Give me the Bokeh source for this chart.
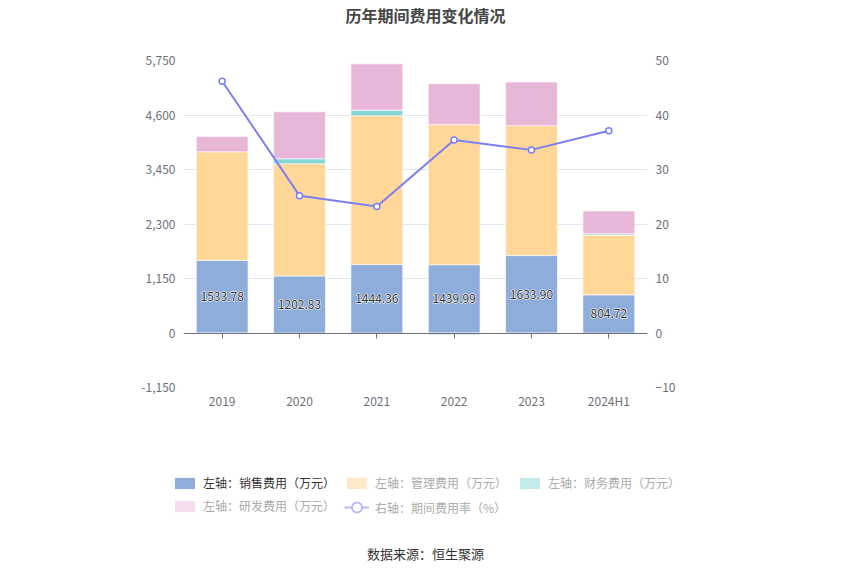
from bokeh.plotting import figure
from bokeh.models import (ColumnDataSource, Range1d, LinearAxis, CategoricalAxis, FixedTicker,
                          NumeralTickFormatter, Label, Legend, LegendItem)
from bokeh.core.properties import value
from bokeh.embed import file_html
from bokeh.resources import INLINE

categories = ["2019", "2020", "2021", "2022", "2023", "2024H1"]
sales = [1533.78, 1202.83, 1444.36, 1439.99, 1633.90, 804.72]
mgmt = [2290, 2370, 3140, 2956, 2741, 1261]
finance = [-8, 104, 118, -35, -20, 28]
rnd = [320, 991, 977, 865, 921, 482]
rate = [46.2, 25.2, 23.2, 35.4, 33.6, 37.1]
sales_labels = ["1533.78", "1202.83", "1444.36", "1439.99", "1633.90", "804.72"]
left_ticks = [-1150, 0, 1150, 2300, 3450, 4600, 5750]
right_ticks = [-10, 0, 10, 20, 30, 40, 50]

FONT = "Noto Sans CJK SC"
C_SALES = "#8eaddb"
C_MGMT = "#ffd899"
C_FIN = "#86d5d7"
C_RND = "#e8b7d8"
C_LINE = "#7b7ff2"
W = 842

# ---------- header (title) ----------
HH = 45
head = figure(width=W, height=HH, x_range=Range1d(0, W), y_range=Range1d(0, HH),
              x_axis_type=None, y_axis_type=None, min_border=0, output_backend="svg",
              toolbar_location=None, outline_line_color=None)
head.grid.visible = False
head.add_layout(Label(x=425, y=HH - 14, text="历年期间费用变化情况", text_align="center",
                      text_baseline="middle", text_font=FONT, text_font_size="16px",
                      text_font_style="bold", text_color="#464646"))

# ---------- main chart ----------
p = figure(x_range=categories, y_range=Range1d(-1150, 5750),
           frame_width=464, frame_height=327,
           min_border_left=183, min_border_right=195, min_border_top=15, min_border_bottom=33,
           output_backend="svg", toolbar_location=None, outline_line_color=None)
p.extra_y_ranges = {"rate": Range1d(-10, 50)}

series = [sales, mgmt, finance, rnd]
colors = [C_SALES, C_MGMT, C_FIN, C_RND]
pos_base = [0.0] * len(categories)
neg_base = [0.0] * len(categories)
stacks = []
for vals in series:
    bottoms, tops = [], []
    for i, v in enumerate(vals):
        if v >= 0:
            bottoms.append(pos_base[i]); tops.append(pos_base[i] + v); pos_base[i] += v
        else:
            bottoms.append(neg_base[i] + v); tops.append(neg_base[i]); neg_base[i] += v
    stacks.append((bottoms, tops))

p.xgrid.grid_line_color = None
p.ygrid.ticker = FixedTicker(ticks=left_ticks)
p.ygrid.grid_line_color = "#e0e6f1"

for (b, t), c in zip(stacks, colors):
    src = ColumnDataSource(dict(x=categories, bottom=b, top=t))
    p.vbar(x="x", bottom="bottom", top="top", width=0.67, source=src,
           fill_color=c, line_color="white", line_alpha=0.6, line_width=1)

lab_src = ColumnDataSource(dict(x=categories, y=[s / 2 for s in sales], t=sales_labels))
p.text(x="x", y="y", text="t", source=lab_src, text_align="center", text_baseline="middle",
       text_font=value(FONT), text_font_size="12px", text_color="white",
       text_outline_color="white")
p.text(x="x", y="y", text="t", source=lab_src, text_align="center", text_baseline="middle",
       text_font=value(FONT), text_font_size="12px", text_color="#333333")

rsrc = ColumnDataSource(dict(x=categories, y=rate))
p.line(x="x", y="y", source=rsrc, y_range_name="rate", line_color=C_LINE, line_width=2)
p.scatter(x="x", y="y", source=rsrc, y_range_name="rate", size=6, marker="circle",
          fill_color="white", line_color=C_LINE, line_width=1.5)

p.yaxis.ticker = FixedTicker(ticks=left_ticks)
p.yaxis.formatter = NumeralTickFormatter(format="0,0")
p.yaxis.axis_line_color = None
p.yaxis.major_tick_line_color = None
p.yaxis.minor_tick_line_color = None
p.yaxis.major_tick_out = 0
p.yaxis.minor_tick_out = 0
p.yaxis.major_label_text_color = "#6e7079"
p.yaxis.major_label_text_font_size = "12px"
p.yaxis.major_label_text_font = FONT
p.yaxis.major_label_standoff = 8

ra = LinearAxis(y_range_name="rate", ticker=FixedTicker(ticks=right_ticks),
                axis_line_color=None, major_tick_line_color=None, minor_tick_line_color=None,
                major_tick_out=0, minor_tick_out=0,
                major_label_text_color="#6e7079", major_label_text_font_size="12px",
                major_label_text_font=FONT, major_label_standoff=8)
p.add_layout(ra, "right")

p.xaxis.axis_line_color = None
p.xaxis.major_tick_line_color = None
p.xaxis.major_tick_out = 0
p.xaxis.major_label_text_color = "#6e7079"
p.xaxis.major_label_text_font_size = "12px"
p.xaxis.major_label_text_font = FONT
p.xaxis.major_label_standoff = 4

zero_axis = CategoricalAxis(fixed_location=0, axis_line_color="#6e7079", axis_line_width=1,
                            major_tick_line_color="#6e7079", major_tick_in=0, major_tick_out=5,
                            major_label_text_font_size="0px", major_label_text_alpha=0)
p.add_layout(zero_axis, "below")

# ---------- footer (legend + source) ----------
FH = 150
foot = figure(width=W, height=FH, x_range=Range1d(0, W), y_range=Range1d(0, FH),
              x_axis_type=None, y_axis_type=None, min_border=0, output_backend="svg",
              toolbar_location=None, outline_line_color=None)
foot.grid.visible = False

off = ColumnDataSource(dict(x=[-1000], top=[-1000]))
d_sales = foot.vbar(x="x", top="top", width=1, source=off, fill_color=C_SALES, line_color=None)
d_mgmt = foot.vbar(x="x", top="top", width=1, source=off, fill_color="#fde9c8", line_color=None)
d_fin = foot.vbar(x="x", top="top", width=1, source=off, fill_color="#c3ebec", line_color=None)
d_rnd = foot.vbar(x="x", top="top", width=1, source=off, fill_color="#f4dcec", line_color=None)
off2 = ColumnDataSource(dict(x=[-1000, -999], y=[-1000, -1000]))
d_line = foot.line(x="x", y="y", source=off2, line_color="#b8baf7", line_width=2)
d_pt = foot.scatter(x="x", y="y", source=off2, size=11, marker="circle", fill_color="white",
                    line_color="#b8baf7", line_width=2)

def add_leg(label, rends, x, y, color, gh=14):
    leg = Legend(items=[LegendItem(label=label, renderers=rends)], location=(x, y),
                 orientation="horizontal", padding=0, margin=0, glyph_width=25, glyph_height=gh,
                 label_standoff=6, border_line_color=None, background_fill_alpha=0,
                 label_text_font=FONT, label_text_font_size="12px", label_text_color=color,
                 label_height=14)
    foot.add_layout(leg, "center")

add_leg("左轴：销售费用（万元）", [d_sales], 172, 79, "#333333")
add_leg("左轴：管理费用（万元）", [d_mgmt], 344, 79, "#aaaaaa")
add_leg("左轴：财务费用（万元）", [d_fin], 517, 79, "#aaaaaa")
add_leg("左轴：研发费用（万元）", [d_rnd], 172, 56, "#aaaaaa")
add_leg("右轴：期间费用率（%）", [d_line, d_pt], 344, 48, "#aaaaaa", gh=30)

foot.add_layout(Label(x=425, y=17, text="数据来源：恒生聚源", text_align="center",
                      text_baseline="middle", text_font=FONT, text_font_size="13px",
                      text_color="#333333"))

open("out.html", "w").write(file_html([head, p, foot], INLINE))
